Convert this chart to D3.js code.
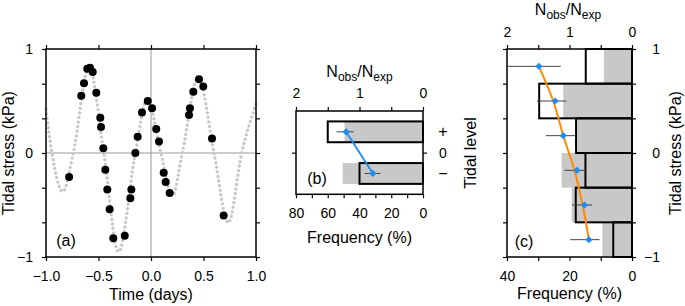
<!DOCTYPE html>
<html><head><meta charset="utf-8">
<script src="https://cdn.jsdelivr.net/npm/d3@7"></script>
<style>
body{margin:0;background:#fff}
svg{display:block;font-family:"Liberation Sans",Arial,Helvetica,sans-serif}
</style></head><body>
<svg id="chart" width="685" height="306"></svg>
<script>
// ---------- Panel (a): tidal stress time series ----------
const curveT = [-1.0, -0.943, -0.84, -0.74, -0.59, -0.449, -0.31, -0.149, -0.035, 0.094, 0.205, 0.298, 0.45, 0.60, 0.736, 0.864, 1.0];
const curveS = [0.42, 0.0, -0.37, 0.0, 0.83, 0.0, -0.95, 0.0, 0.52, 0.0, -0.41, 0.0, 0.73, 0.0, -0.67, 0.0, 0.47];
const quakeT = [-0.78, -0.664, -0.638, -0.607, -0.581, -0.555, -0.521, -0.483, -0.476, -0.454, -0.435, -0.416, -0.394, -0.359,
  -0.25, -0.197, -0.187, -0.149, -0.127, -0.086, -0.031, 0.01, 0.05, 0.076, 0.121, 0.14, 0.178,
  0.362, 0.371, 0.403, 0.457, 0.498, 0.581, 0.692];
const quakeS = [-0.23, 0.55, 0.67, 0.81, 0.82, 0.78, 0.58, 0.34, 0.25, 0.045, -0.16, -0.35, -0.54, -0.82,
  -0.795, -0.436, -0.35, 0.0, 0.157, 0.39, 0.50, 0.43, 0.23, 0.11, -0.19, -0.28, -0.385,
  0.365, 0.43, 0.59, 0.71, 0.64, 0.14, -0.60];
const timeTicks = [-1, -0.5, 0, 0.5, 1];
const stressTicks = [-1, -2/3, -1/3, 0, 1/3, 2/3, 1];
const stressLabels = [-1, 0, 1];

// ---------- Panel (b): tidal level ----------
const levels = ["+", "\u2212"];
const levelObs = [60, 40];
const levelExp = [49.4, 50.6];
const levelRatio = [1.21, 0.79];
const levelErrLo = [1.09, 0.67];
const levelErrHi = [1.36, 0.92];
const freqTicksB = [80, 70, 60, 50, 40, 30, 20, 10, 0];
const freqLabelsB = [80, 60, 40, 20, 0];
const ratioTicks = [0, 0.5, 1, 1.5, 2];
const ratioLabels = [0, 1, 2];

// ---------- Panel (c): tidal stress bins ----------
const binTop = [1, 2/3, 1/3, 0, -1/3, -2/3];
const binBottom = [2/3, 1/3, 0, -1/3, -2/3, -1];
const binObs = [14.8, 29.7, 17.9, 14.9, 18.0, 6.0];
const binExp = [9.0, 22.0, 17.5, 22.5, 19.3, 9.5];
const binRatio = [1.49, 1.23, 1.10, 0.88, 0.76, 0.69];
const binErrLo = [1.14, 1.05, 0.90, 0.74, 0.64, 0.52];
const binErrHi = [2.0, 1.52, 1.38, 1.08, 0.96, 0.99];
const fitStress = [0.833, 0.5, 0.167, -0.167, -0.5, -0.833];
const fitRatio = [1.49, 1.26, 1.10, 0.92, 0.79, 0.69];
const freqTicksC = [40, 30, 20, 10, 0];
const freqLabelsC = [40, 20, 0];

const BLUE = "#1e8cf0", ORANGE = "#ff8a00", GRAYBAR = "#c8c8c8";
const svg = d3.select("#chart");
const FONT = "'Liberation Sans',Arial,Helvetica,sans-serif";

function styleAxis(a) {
  a.attr("font-family", FONT).attr("font-size", 14);
  a.select(".domain").remove();
  a.selectAll("line").attr("stroke", "#000").attr("stroke-width", 1.2);
  a.selectAll("text").attr("fill", "#000");
  return a;
}
function lbl(list, fmt) { return d => list.some(v => Math.abs(v - d) < 1e-9) ? fmt(d) : ""; }
const fmtInt = d3.format("d");
const fmt1 = d3.format(".1f");
function frame(x0, y0, w, h) {
  svg.append("rect").attr("x", x0).attr("y", y0).attr("width", w).attr("height", h)
    .attr("fill", "none").attr("stroke", "#000").attr("stroke-width", 1.5);
}
function txt(x, y, s, size, anchor, rot) {
  const t = svg.append("text").attr("font-size", size).attr("text-anchor", anchor || "middle").attr("fill", "#000")
    .attr("transform", `translate(${x},${y})` + (rot ? ` rotate(${rot})` : "")).text(s);
  return t;
}
function ratioTitle(x, y) {
  const t = svg.append("text").attr("x", x).attr("y", y).attr("text-anchor", "middle").attr("font-size", 16).attr("fill", "#000");
  t.append("tspan").text("N");
  t.append("tspan").attr("font-size", 12).attr("dy", 4).text("obs");
  t.append("tspan").attr("dy", -4).text("/N");
  t.append("tspan").attr("font-size", 12).attr("dy", 4).text("exp");
}

// ===== Panel (a) =====
const xa = d3.scaleLinear([-1, 1], [46, 256]);
const ya = d3.scaleLinear([-1, 1], [257, 49]);
const ga = svg.append("g");
ga.append("line").attr("x1", xa(0)).attr("x2", xa(0)).attr("y1", ya(1)).attr("y2", ya(-1)).attr("stroke", "#9a9a9a").attr("stroke-width", 1);
ga.append("line").attr("x1", xa(-1)).attr("x2", xa(1)).attr("y1", ya(0)).attr("y2", ya(0)).attr("stroke", "#9a9a9a").attr("stroke-width", 1);
const tideLine = d3.line().x((d, i) => xa(curveT[i])).y(d => ya(d)).curve(d3.curveMonotoneX);
ga.append("path").attr("d", tideLine(curveS)).attr("fill", "none").attr("stroke", "#c8c8c8")
  .attr("stroke-width", 3.4).attr("stroke-linecap", "round").attr("stroke-dasharray", "0 4.6");
ga.selectAll("circle.q").data(quakeS).join("circle").attr("class", "q")
  .attr("cx", (d, i) => xa(quakeT[i])).attr("cy", d => ya(d)).attr("r", 4).attr("fill", "#000");
styleAxis(svg.append("g").attr("transform", "translate(0,257)")
  .call(d3.axisBottom(xa).tickValues(timeTicks).tickSize(4).tickPadding(10).tickFormat(fmt1)));
styleAxis(svg.append("g").attr("transform", "translate(0,49)")
  .call(d3.axisTop(xa).tickValues(timeTicks).tickSize(4).tickFormat("")));
styleAxis(svg.append("g").attr("transform", "translate(46,0)")
  .call(d3.axisLeft(ya).tickValues(stressTicks).tickSize(4).tickPadding(9).tickFormat(lbl(stressLabels, fmtInt))));
styleAxis(svg.append("g").attr("transform", "translate(256,0)")
  .call(d3.axisRight(ya).tickValues(stressTicks).tickSize(4).tickFormat("")));
frame(46, 49, 210, 208);
txt(151, 300, "Time (days)", 16);
txt(14, 153, "Tidal stress (kPa)", 16, "middle", -90);
txt(66, 246, "(a)", 16);

// ===== Panel (b) =====
const xbF = d3.scaleLinear([80, 0], [296, 423]);
const xbR = d3.scaleLinear([2, 0], [296, 423]);
const ybLin = d3.scaleLinear([-1, 1], [194.3, 111]);
const yb = d3.scaleBand(levels, [111, 194.3]).paddingInner(0.5).paddingOuter(0.25);
const gb = svg.append("g");
gb.selectAll("rect.e").data(levelExp).join("rect").attr("class", "e")
  .attr("x", d => xbF(d)).attr("width", d => xbF(0) - xbF(d))
  .attr("y", (d, i) => yb(levels[i])).attr("height", yb.bandwidth()).attr("fill", GRAYBAR);
gb.selectAll("rect.o").data(levelObs).join("rect").attr("class", "o")
  .attr("x", d => xbF(d)).attr("width", d => xbF(0) - xbF(d))
  .attr("y", (d, i) => yb(levels[i])).attr("height", yb.bandwidth())
  .attr("fill", "none").attr("stroke", "#000").attr("stroke-width", 2);
const ybc = i => yb(levels[i]) + yb.bandwidth() / 2;
gb.selectAll("line.err").data(levelRatio).join("line").attr("class", "err")
  .attr("x1", (d, i) => xbR(levelErrLo[i])).attr("x2", (d, i) => xbR(levelErrHi[i]))
  .attr("y1", (d, i) => ybc(i)).attr("y2", (d, i) => ybc(i)).attr("stroke", "#444").attr("stroke-width", 1);
gb.append("path").attr("d", d3.line().x(d => xbR(d)).y((d, i) => ybc(i))(levelRatio))
  .attr("fill", "none").attr("stroke", BLUE).attr("stroke-width", 1.8);
const diamond = d3.symbol(d3.symbolSquare, 26);
gb.selectAll("path.dm").data(levelRatio).join("path").attr("class", "dm")
  .attr("d", diamond).attr("fill", BLUE)
  .attr("transform", (d, i) => `translate(${xbR(d)},${ybc(i)}) rotate(45)`);
styleAxis(svg.append("g").attr("transform", "translate(0,194.3)")
  .call(d3.axisBottom(xbF).tickValues(freqTicksB).tickSize(4).tickPadding(10).tickFormat(lbl(freqLabelsB, fmtInt))));
styleAxis(svg.append("g").attr("transform", "translate(0,111)")
  .call(d3.axisTop(xbR).tickValues(ratioTicks).tickSize(4).tickPadding(9).tickFormat(lbl(ratioLabels, fmtInt))));
styleAxis(svg.append("g").attr("transform", "translate(296,0)")
  .call(d3.axisLeft(ybLin).tickValues([0]).tickSize(4).tickFormat("")));
const rb = styleAxis(svg.append("g").attr("transform", "translate(423,0)")
  .call(d3.axisRight(ybLin).tickValues([0]).tickSize(4).tickFormat(fmtInt)));
rb.selectAll("text").attr("text-anchor", "middle").attr("x", 20);
levels.forEach((l, i) => txt(443, ybc(i) + 5.5, l, 16));
frame(296, 111, 127, 83.3);
ratioTitle(359.5, 77);
txt(359.5, 243, "Frequency (%)", 16);
txt(476, 153, "Tidal level", 16, "middle", -90);
txt(317, 183.5, "(b)", 16);

// ===== Panel (c) =====
const xcF = d3.scaleLinear([40, 0], [507, 632]);
const xcR = d3.scaleLinear([2, 0], [507, 632]);
const yc = d3.scaleLinear([-1, 1], [257, 49]);
const gc = svg.append("g");
gc.selectAll("rect.e").data(binExp).join("rect").attr("class", "e")
  .attr("x", d => xcF(d)).attr("width", d => xcF(0) - xcF(d))
  .attr("y", (d, i) => yc(binTop[i])).attr("height", (d, i) => yc(binBottom[i]) - yc(binTop[i])).attr("fill", GRAYBAR);
gc.selectAll("rect.o").data(binObs).join("rect").attr("class", "o")
  .attr("x", d => xcF(d)).attr("width", d => xcF(0) - xcF(d))
  .attr("y", (d, i) => yc(binTop[i])).attr("height", (d, i) => yc(binBottom[i]) - yc(binTop[i]))
  .attr("fill", "none").attr("stroke", "#000").attr("stroke-width", 2);
const ycc = i => yc((binTop[i] + binBottom[i]) / 2);
gc.selectAll("line.err").data(binRatio).join("line").attr("class", "err")
  .attr("x1", (d, i) => xcR(binErrLo[i])).attr("x2", (d, i) => xcR(binErrHi[i]))
  .attr("y1", (d, i) => ycc(i)).attr("y2", (d, i) => ycc(i)).attr("stroke", "#444").attr("stroke-width", 1);
gc.append("path").attr("d", d3.line().x(d => xcR(d)).y((d, i) => yc(fitStress[i])).curve(d3.curveMonotoneY)(fitRatio))
  .attr("fill", "none").attr("stroke", ORANGE).attr("stroke-width", 2);
gc.selectAll("path.dm").data(binRatio).join("path").attr("class", "dm")
  .attr("d", diamond).attr("fill", BLUE)
  .attr("transform", (d, i) => `translate(${xcR(d)},${ycc(i)}) rotate(45)`);
styleAxis(svg.append("g").attr("transform", "translate(0,257)")
  .call(d3.axisBottom(xcF).tickValues(freqTicksC).tickSize(4).tickPadding(10).tickFormat(lbl(freqLabelsC, fmtInt))));
styleAxis(svg.append("g").attr("transform", "translate(0,49)")
  .call(d3.axisTop(xcR).tickValues(ratioTicks).tickSize(4).tickPadding(8).tickFormat(lbl(ratioLabels, fmtInt))));
styleAxis(svg.append("g").attr("transform", "translate(507,0)")
  .call(d3.axisLeft(yc).tickValues(stressTicks).tickSize(4).tickFormat("")));
const rc = styleAxis(svg.append("g").attr("transform", "translate(632,0)")
  .call(d3.axisRight(yc).tickValues(stressTicks).tickSize(4).tickFormat(lbl(stressLabels, fmtInt))));
rc.selectAll("text").attr("text-anchor", "end").attr("x", 28);
frame(507, 49, 125, 208);
ratioTitle(568, 15);
txt(569.5, 299, "Frequency (%)", 16);
txt(680.5, 153, "Tidal stress (kPa)", 16, "middle", -90);
txt(524, 246.5, "(c)", 16);
</script>
</body></html>
